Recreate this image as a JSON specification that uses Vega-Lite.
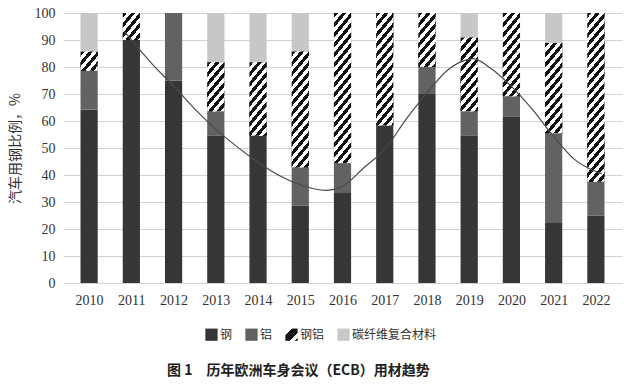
{
  "$schema": "https://vega.github.io/schema/vega-lite/v6.json",
  "autosize": {"type": "none"},
  "width": 559,
  "height": 270,
  "padding": {"left": 63, "top": 13, "right": 18, "bottom": 107},
  "background": "white",
  "config": {"view": {"stroke": null}, "font": "Liberation Serif"},
  "params": [
    {"name": "hstops", "value": [
      {"offset": 0, "color": "#111"}, {"offset": 0.025, "color": "#111"}, {"offset": 0.025, "color": "#fff"}, {"offset": 0.05, "color": "#fff"},
      {"offset": 0.05, "color": "#111"}, {"offset": 0.075, "color": "#111"}, {"offset": 0.075, "color": "#fff"}, {"offset": 0.1, "color": "#fff"},
      {"offset": 0.1, "color": "#111"}, {"offset": 0.125, "color": "#111"}, {"offset": 0.125, "color": "#fff"}, {"offset": 0.15, "color": "#fff"},
      {"offset": 0.15, "color": "#111"}, {"offset": 0.175, "color": "#111"}, {"offset": 0.175, "color": "#fff"}, {"offset": 0.2, "color": "#fff"},
      {"offset": 0.2, "color": "#111"}, {"offset": 0.225, "color": "#111"}, {"offset": 0.225, "color": "#fff"}, {"offset": 0.25, "color": "#fff"},
      {"offset": 0.25, "color": "#111"}, {"offset": 0.275, "color": "#111"}, {"offset": 0.275, "color": "#fff"}, {"offset": 0.3, "color": "#fff"},
      {"offset": 0.3, "color": "#111"}, {"offset": 0.325, "color": "#111"}, {"offset": 0.325, "color": "#fff"}, {"offset": 0.35, "color": "#fff"},
      {"offset": 0.35, "color": "#111"}, {"offset": 0.375, "color": "#111"}, {"offset": 0.375, "color": "#fff"}, {"offset": 0.4, "color": "#fff"},
      {"offset": 0.4, "color": "#111"}, {"offset": 0.425, "color": "#111"}, {"offset": 0.425, "color": "#fff"}, {"offset": 0.45, "color": "#fff"},
      {"offset": 0.45, "color": "#111"}, {"offset": 0.475, "color": "#111"}, {"offset": 0.475, "color": "#fff"}, {"offset": 0.5, "color": "#fff"},
      {"offset": 0.5, "color": "#111"}, {"offset": 0.525, "color": "#111"}, {"offset": 0.525, "color": "#fff"}, {"offset": 0.55, "color": "#fff"},
      {"offset": 0.55, "color": "#111"}, {"offset": 0.575, "color": "#111"}, {"offset": 0.575, "color": "#fff"}, {"offset": 0.6, "color": "#fff"},
      {"offset": 0.6, "color": "#111"}, {"offset": 0.625, "color": "#111"}, {"offset": 0.625, "color": "#fff"}, {"offset": 0.65, "color": "#fff"},
      {"offset": 0.65, "color": "#111"}, {"offset": 0.675, "color": "#111"}, {"offset": 0.675, "color": "#fff"}, {"offset": 0.7, "color": "#fff"},
      {"offset": 0.7, "color": "#111"}, {"offset": 0.725, "color": "#111"}, {"offset": 0.725, "color": "#fff"}, {"offset": 0.75, "color": "#fff"},
      {"offset": 0.75, "color": "#111"}, {"offset": 0.775, "color": "#111"}, {"offset": 0.775, "color": "#fff"}, {"offset": 0.8, "color": "#fff"},
      {"offset": 0.8, "color": "#111"}, {"offset": 0.825, "color": "#111"}, {"offset": 0.825, "color": "#fff"}, {"offset": 0.85, "color": "#fff"},
      {"offset": 0.85, "color": "#111"}, {"offset": 0.875, "color": "#111"}, {"offset": 0.875, "color": "#fff"}, {"offset": 0.9, "color": "#fff"},
      {"offset": 0.9, "color": "#111"}, {"offset": 0.925, "color": "#111"}, {"offset": 0.925, "color": "#fff"}, {"offset": 0.95, "color": "#fff"},
      {"offset": 0.95, "color": "#111"}, {"offset": 0.975, "color": "#111"}, {"offset": 0.975, "color": "#fff"}, {"offset": 1, "color": "#fff"}
    ]}
  ],
  "title": {
    "text": "图 1　历年欧洲车身会议（ECB）用材趋势",
    "orient": "bottom",
    "anchor": "start",
    "frame": "group",
    "dx": 104,
    "offset": 23,
    "font": "Noto Sans CJK SC",
    "fontSize": 14,
    "fontWeight": "bold",
    "color": "#222"
  },
  "datasets": {
    "bars": [
      {"year": 2010, "material": "钢", "value": 64.3},
      {"year": 2010, "material": "铝", "value": 14.3},
      {"year": 2010, "material": "钢铝", "value": 7.1},
      {"year": 2010, "material": "碳纤维复合材料", "value": 14.3},
      {"year": 2011, "material": "钢", "value": 90},
      {"year": 2011, "material": "钢铝", "value": 10},
      {"year": 2012, "material": "钢", "value": 75},
      {"year": 2012, "material": "铝", "value": 25},
      {"year": 2013, "material": "钢", "value": 54.5},
      {"year": 2013, "material": "铝", "value": 9.1},
      {"year": 2013, "material": "钢铝", "value": 18.2},
      {"year": 2013, "material": "碳纤维复合材料", "value": 18.2},
      {"year": 2014, "material": "钢", "value": 54.5},
      {"year": 2014, "material": "钢铝", "value": 27.3},
      {"year": 2014, "material": "碳纤维复合材料", "value": 18.2},
      {"year": 2015, "material": "钢", "value": 28.6},
      {"year": 2015, "material": "铝", "value": 14.3},
      {"year": 2015, "material": "钢铝", "value": 42.8},
      {"year": 2015, "material": "碳纤维复合材料", "value": 14.3},
      {"year": 2016, "material": "钢", "value": 33.3},
      {"year": 2016, "material": "铝", "value": 11.1},
      {"year": 2016, "material": "钢铝", "value": 55.6},
      {"year": 2017, "material": "钢", "value": 58.3},
      {"year": 2017, "material": "钢铝", "value": 41.7},
      {"year": 2018, "material": "钢", "value": 70},
      {"year": 2018, "material": "铝", "value": 10},
      {"year": 2018, "material": "钢铝", "value": 20},
      {"year": 2019, "material": "钢", "value": 54.5},
      {"year": 2019, "material": "铝", "value": 9.1},
      {"year": 2019, "material": "钢铝", "value": 27.3},
      {"year": 2019, "material": "碳纤维复合材料", "value": 9.1},
      {"year": 2020, "material": "钢", "value": 61.5},
      {"year": 2020, "material": "铝", "value": 7.7},
      {"year": 2020, "material": "钢铝", "value": 30.8},
      {"year": 2021, "material": "钢", "value": 22.2},
      {"year": 2021, "material": "铝", "value": 33.3},
      {"year": 2021, "material": "钢铝", "value": 33.4},
      {"year": 2021, "material": "碳纤维复合材料", "value": 11.1},
      {"year": 2022, "material": "钢", "value": 25},
      {"year": 2022, "material": "铝", "value": 12.5},
      {"year": 2022, "material": "钢铝", "value": 62.5}
    ],
    "trend": [
      {"t": 2010.83, "v": 93.2},
      {"t": 2011, "v": 90.1},
      {"t": 2011.5, "v": 81},
      {"t": 2012, "v": 73},
      {"t": 2012.5, "v": 64.5},
      {"t": 2013, "v": 57},
      {"t": 2013.5, "v": 50.5},
      {"t": 2014, "v": 44.7},
      {"t": 2014.5, "v": 39.8},
      {"t": 2015, "v": 36.4},
      {"t": 2015.6, "v": 34.3},
      {"t": 2016, "v": 35.8},
      {"t": 2016.5, "v": 42.6},
      {"t": 2017, "v": 49.5},
      {"t": 2017.5, "v": 60.5},
      {"t": 2018, "v": 70.4},
      {"t": 2018.5, "v": 79},
      {"t": 2019, "v": 82.9},
      {"t": 2019.1, "v": 83.1},
      {"t": 2019.5, "v": 79.6},
      {"t": 2020, "v": 72.8},
      {"t": 2020.5, "v": 64.2},
      {"t": 2021, "v": 54.3},
      {"t": 2021.5, "v": 45.7},
      {"t": 2022, "v": 41.3},
      {"t": 2022.14, "v": 40.5}
    ]
  },
  "layer": [
    {
      "data": {"name": "bars"},
      "transform": [
        {"calculate": "indexof(['钢','铝','钢铝','碳纤维复合材料'], datum.material)", "as": "ord"},
        {"stack": "value", "groupby": ["year"], "sort": [{"field": "ord", "order": "ascending"}], "as": ["y0", "y1"]}
      ],
      "layer": [
        {
          "mark": {"type": "bar", "width": 17.2, "strokeWidth": 0},
          "encoding": {
            "x": {
              "field": "year", "type": "quantitative",
              "scale": {"domain": [2009.5, 2022.5], "nice": false, "zero": false},
              "axis": {
                "values": [2010, 2011, 2012, 2013, 2014, 2015, 2016, 2017, 2018, 2019, 2020, 2021, 2022],
                "format": "d", "grid": false, "domain": false, "ticks": false,
                "labelFont": "Liberation Serif", "labelFontSize": 14, "labelColor": "#333",
                "labelPadding": 10, "labelFlush": false, "labelOverlap": false, "title": null
              }
            },
            "y": {
              "field": "y1", "type": "quantitative",
              "scale": {"domain": [0, 100], "nice": false},
              "axis": {
                "values": [0, 10, 20, 30, 40, 50, 60, 70, 80, 90, 100],
                "grid": true, "gridColor": "#d2d2d2", "gridWidth": 1,
                "domain": false, "ticks": false, "labelOverlap": false,
                "labelFont": "Liberation Serif", "labelFontSize": 14, "labelColor": "#333", "labelPadding": 8,
                "title": "汽车用钢比例，%", "titleFont": "Noto Sans CJK SC", "titleFontSize": 14,
                "titleFontWeight": "normal", "titleColor": "#333", "titlePadding": 12
              }
            },
            "y2": {"field": "y0"},
            "color": {
              "field": "material", "type": "nominal",
              "scale": {
                "domain": ["钢", "铝", "钢铝", "碳纤维复合材料"],
                "range": ["#363636", "#626262", {"expr": "{gradient: 'linear', x1: 0, y1: 0, x2: 1, y2: 1, stops: [{offset: 0, color: '#fff'}, {offset: 0.26, color: '#fff'}, {offset: 0.26, color: '#111'}, {offset: 0.68, color: '#111'}, {offset: 0.68, color: '#fff'}, {offset: 0.86, color: '#fff'}, {offset: 0.86, color: '#111'}, {offset: 1, color: '#111'}]}"}, "#c7c7c7"]
              },
              "legend": {
                "title": null, "orient": "none", "direction": "horizontal",
                "legendX": 142, "legendY": 315,
                "symbolType": "square", "symbolSize": 150, "symbolStrokeWidth": 0, "symbolOpacity": 1,
                "labelFont": "Noto Sans CJK SC", "labelFontSize": 12, "labelColor": "#333",
                "labelOffset": 2, "columnPadding": 12
              }
            }
          }
        },
        {
          "transform": [{"filter": "datum.material === '钢铝'"}],
          "mark": {
            "type": "bar", "width": 17.2, "strokeWidth": 0,
            "fill": {"expr": "{gradient: 'linear', x1: 0, y1: 0, x2: 200 * 20.64 / (pow((datum.y1 - datum.y0) * 2.7, 2) + 426), y2: 200 * (datum.y1 - datum.y0) * 2.7 / (pow((datum.y1 - datum.y0) * 2.7, 2) + 426), stops: hstops}"}
          },
          "encoding": {
            "x": {
              "field": "year", "type": "quantitative",
              "axis": {
                "values": [2010, 2011, 2012, 2013, 2014, 2015, 2016, 2017, 2018, 2019, 2020, 2021, 2022],
                "format": "d", "grid": false, "domain": false, "ticks": false,
                "labelFont": "Liberation Serif", "labelFontSize": 14, "labelColor": "#333",
                "labelPadding": 10, "labelFlush": false, "labelOverlap": false, "title": null
              }
            },
            "y": {
              "field": "y1", "type": "quantitative",
              "axis": {
                "values": [0, 10, 20, 30, 40, 50, 60, 70, 80, 90, 100],
                "grid": true, "gridColor": "#d2d2d2", "gridWidth": 1,
                "domain": false, "ticks": false, "labelOverlap": false,
                "labelFont": "Liberation Serif", "labelFontSize": 14, "labelColor": "#333", "labelPadding": 8,
                "title": "汽车用钢比例，%", "titleFont": "Noto Sans CJK SC", "titleFontSize": 14,
                "titleFontWeight": "normal", "titleColor": "#333", "titlePadding": 12
              }
            },
            "y2": {"field": "y0"}
          }
        }
      ]
    },
    {
      "data": {"name": "trend"},
      "mark": {"type": "line", "color": "#4a4a4a", "strokeWidth": 1.2, "interpolate": "monotone"},
      "encoding": {
        "x": {
          "field": "t", "type": "quantitative",
          "axis": {
            "values": [2010, 2011, 2012, 2013, 2014, 2015, 2016, 2017, 2018, 2019, 2020, 2021, 2022],
            "format": "d", "grid": false, "domain": false, "ticks": false,
            "labelFont": "Liberation Serif", "labelFontSize": 14, "labelColor": "#333",
            "labelPadding": 10, "labelFlush": false, "labelOverlap": false, "title": null
          }
        },
        "y": {
          "field": "v", "type": "quantitative",
          "axis": {
            "values": [0, 10, 20, 30, 40, 50, 60, 70, 80, 90, 100],
            "grid": true, "gridColor": "#d2d2d2", "gridWidth": 1,
            "domain": false, "ticks": false, "labelOverlap": false,
            "labelFont": "Liberation Serif", "labelFontSize": 14, "labelColor": "#333", "labelPadding": 8,
            "title": "汽车用钢比例，%", "titleFont": "Noto Sans CJK SC", "titleFontSize": 14,
            "titleFontWeight": "normal", "titleColor": "#333", "titlePadding": 12
          }
        }
      }
    }
  ]
}
